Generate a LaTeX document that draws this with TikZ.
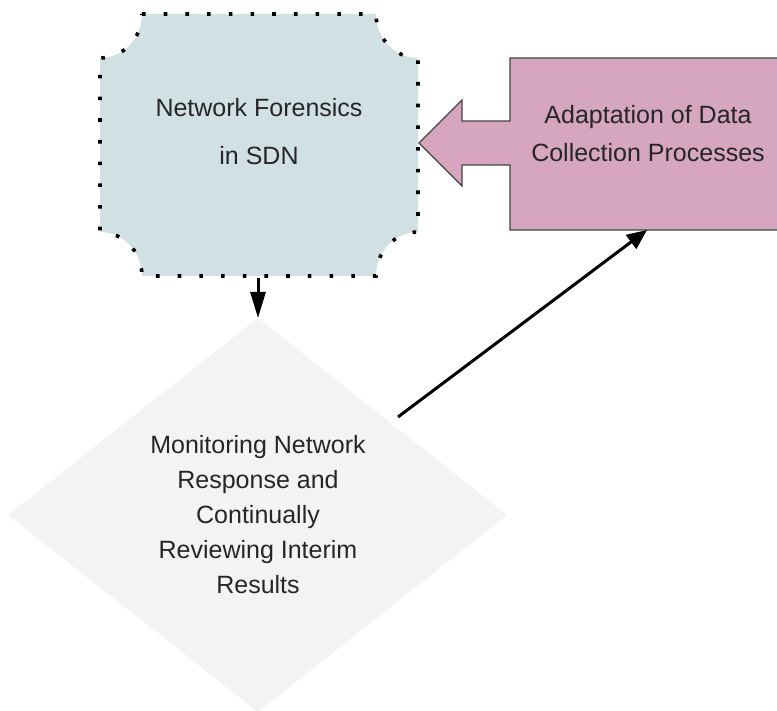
\documentclass[tikz,border=0pt]{standalone}
\usepackage{fontspec}
\setmainfont{Liberation Sans}
\usetikzlibrary{arrows.meta}
\definecolor{plaquefill}{HTML}{D0E0E3}
\definecolor{calloutfill}{HTML}{D5A6BD}
\definecolor{diamondfill}{HTML}{F3F3F3}
\definecolor{edgegray}{HTML}{434343}
\definecolor{textgray}{HTML}{262626}
\tikzset{
  label text/.style={text=textgray, align=center, inner sep=0pt},
  dotted border/.style={draw=black, line width=3.6pt, dash pattern=on 3.6pt off 18.1pt},
  flow/.style={draw=black, line width=3pt, -{Triangle[length=22pt,width=16pt]}},
}
% plaque outline with concave quarter-circle corners (y axis points down)
\newcommand{\plaqueoutline}{%
  (142,14) -- (376,14) arc[start angle=180, end angle=90, x radius=42, y radius=44]
  -- (418,232) arc[start angle=270, end angle=180, x radius=42, y radius=44]
  -- (142,276) arc[start angle=0, end angle=-90, x radius=42, y radius=44]
  -- (100,58) arc[start angle=90, end angle=0, x radius=42, y radius=44] -- cycle}
\begin{document}
\begin{tikzpicture}[x=1pt,y=-1pt]
\useasboundingbox (0,0) rectangle (777,711);

% plaque
\fill[plaquefill] \plaqueoutline;
\draw[dotted border] \plaqueoutline;
\node[label text, font=\fontsize{25}{48}\selectfont] (forensics) at (259,132)
  {Network Forensics\\in SDN};
\coordinate (plaqueBottom) at (258,278);

% diamond
\coordinate (dTop) at (258,318);
\coordinate (dRight) at (507,515);
\coordinate (dBottom) at (258,712);
\coordinate (dLeft) at (8,515);
\fill[diamondfill] (dTop) -- (dRight) -- (dBottom) -- (dLeft) -- cycle;
\node[label text, font=\fontsize{25}{35}\selectfont] (monitoring) at (258,515)
  {Monitoring Network\\Response and\\Continually\\Reviewing Interim\\Results};

% left-pointing callout box
\path[fill=calloutfill, draw=edgegray, line width=1.4pt, line join=miter]
  (510,58) -- (790,58) -- (790,230) -- (510,230) -- (510,165) -- (462,165)
  -- (462,186) -- (419,143) -- (462,100) -- (462,121) -- (510,121) -- cycle;
\node[label text, font=\fontsize{25}{38}\selectfont] (adaptation) at (648,134)
  {Adaptation of Data\\Collection Processes};
\coordinate (calloutBottom) at (647,230);

% connectors
\draw[flow, -{Triangle[length=26pt,width=15pt]}] (plaqueBottom) -- (dTop);
\coordinate (reviewOut) at (398,417);
\draw[flow, -{Triangle[length=20pt,width=17pt]}] (reviewOut) -- (calloutBottom);
\end{tikzpicture}
\end{document}
